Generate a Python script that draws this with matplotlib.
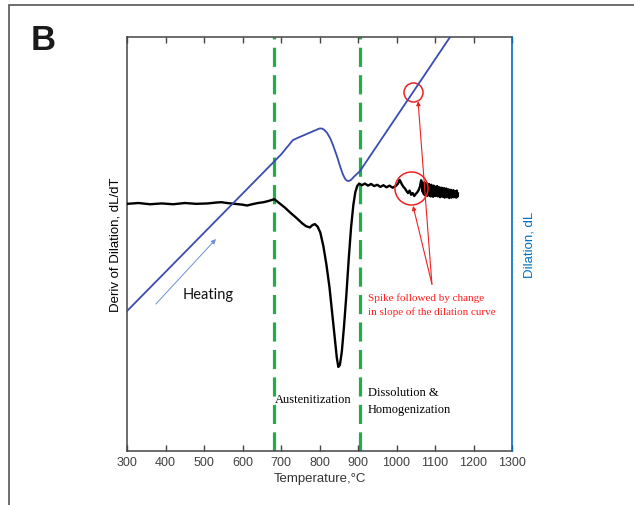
import matplotlib
matplotlib.use("Agg")
import matplotlib.pyplot as plt
from matplotlib.patches import Rectangle

# ---- data ----
deriv_T = [300, 330, 360, 390, 420, 450, 480, 510, 530, 545, 560, 580, 600, 612, 625, 640, 655, 668, 678, 683,
           695, 710, 725, 740, 755, 765, 775, 782, 788, 795, 802, 810, 818, 826, 834, 840,
           845, 849, 853, 858, 864, 870, 876, 882, 888, 893, 898, 903, 910, 918, 926, 934, 942,
           950, 958, 966, 974, 982, 990, 998, 1004, 1008, 1011, 1014, 1018, 1022, 1026, 1030, 1034, 1038,
           1042, 1046, 1050, 1054, 1058, 1061, 1064, 1066,
           1068.0, 1069.5, 1071.0, 1072.5, 1074.0, 1075.5, 1077.0, 1078.5, 1080.0, 1081.5, 1083.0,
           1084.5, 1086.0, 1087.5, 1089.0, 1090.5, 1092.0, 1093.5, 1095.0, 1096.5, 1098.0, 1099.5,
           1101.0, 1102.5, 1104.0, 1105.5, 1107.0, 1108.5, 1110.0, 1111.5, 1113.0, 1114.5, 1116.0,
           1117.5, 1119.0, 1120.5, 1122.0, 1123.5, 1125.0, 1126.5, 1128.0, 1129.5, 1131.0, 1132.5,
           1134.0, 1135.5, 1137.0, 1138.5, 1140.0, 1141.5, 1143.0, 1144.5, 1146.0, 1147.5, 1149.0,
           1150.5, 1152.0, 1153.5, 1155.0, 1156.5, 1158.0, 1159.5]
deriv_val = [59.7, 59.9, 59.6, 59.8, 59.6, 59.9, 59.7, 59.8, 60.0, 60.1, 59.9, 59.7, 59.5, 59.3, 59.6, 59.9, 60.1, 60.4, 60.7, 60.8,
             59.9, 58.8, 57.5, 56.3, 55.0, 54.3, 54.0, 54.6, 54.8, 54.2, 52.8, 49.5, 45.0, 39.5, 32.5, 27.0,
             22.5, 20.3, 20.8, 24.0, 30.5, 38.0, 46.5, 54.0, 59.5, 62.5, 64.0, 64.6, 64.2, 64.6, 64.1, 64.5, 64.0,
             64.3, 63.8, 64.2, 63.7, 64.1, 63.6, 64.0, 64.6, 65.5, 65.0, 64.4, 63.8, 63.4, 62.8, 62.3, 62.9, 61.9,
             62.3, 61.6, 62.1, 62.5, 63.1, 63.9, 65.4, 64.8,
             62.6, 64.6, 62.0, 64.9, 61.8, 64.2, 62.4, 64.7, 61.6, 64.0, 62.2,
             64.5, 61.7, 63.8, 61.5, 64.3, 62.0, 63.6, 61.4, 64.1, 61.9, 63.9,
             61.6, 63.4, 62.1, 64.0, 61.5, 63.5, 61.8, 63.7, 61.3, 63.2, 62.0,
             63.6, 61.4, 63.3, 61.7, 63.5, 61.2, 63.0, 61.8, 63.4, 61.3, 62.9,
             61.6, 63.2, 61.1, 62.8, 61.7, 63.1, 61.2, 62.7, 61.5, 63.0, 61.3,
             62.8, 61.6, 62.6, 61.2, 62.9, 61.4, 62.2]

dil_T = [300, 683, 700, 715, 731, 745, 760, 775, 790, 800, 806, 812, 820, 828, 835, 845, 853, 860, 866,
         871, 876, 882, 890, 905, 1150]
dil_val = [33.8, 70.0, 71.6, 73.3, 75.1, 75.7, 76.3, 76.9, 77.5, 77.9, 77.9, 77.6, 76.8, 75.5, 73.9,
           71.3, 68.9, 67.0, 65.8, 65.3, 65.2, 65.5, 66.3, 67.6, 101.5]

phase_lines = [683, 905]
xticks = list(range(300, 1301, 100))

# ---- figure ----
fig = plt.figure(figsize=(6.34, 5.06), dpi=100)
fig.patches.append(Rectangle((9 / 634, -0.1), 1.2, 1 - 6 / 506 + 0.1, transform=fig.transFigure,
                             fill=False, edgecolor="#555555", linewidth=1.2))
fig.text(31 / 634, 1 - 40 / 506, "B", fontsize=25, fontweight="bold", family="Liberation Sans",
         va="center", ha="left", color="#1a1a1a")

ax = fig.add_axes([127 / 634, 1 - 452 / 506, 385 / 634, 414 / 506])
ax2 = ax.twinx()

ax.set_xlim(300, 1300)
ax.set_ylim(0, 100)
ax2.set_ylim(0, 100)

for t in phase_lines:
    ax.axvline(t, color="#1fae4a", lw=2.3, dashes=(6, 2.6), zorder=1)

ax.plot(deriv_T, deriv_val, color="black", lw=1.7, zorder=3)
ax2.plot(dil_T, dil_val, color="#3a4cae", lw=1.3, zorder=3)

# axes styling
ax.set_xticks(xticks)
ax.tick_params(axis="x", direction="in", top=True, length=4, width=1, color="#444444",
               labelsize=9, labelcolor="#404040")
ax.tick_params(axis="y", left=False, labelleft=False)
ax2.tick_params(axis="y", right=False, labelright=False)
for s in ["left", "bottom", "top"]:
    ax.spines[s].set_color("#444444")
    ax.spines[s].set_linewidth(1.1)
    ax2.spines[s].set_visible(False)
ax.spines["right"].set_visible(False)
ax2.spines["right"].set_color("#0070c0")
ax2.spines["right"].set_linewidth(1.2)

for lab in ax.get_xticklabels():
    lab.set_family("Liberation Sans")
ax.set_xlabel("Temperature,°C", family="Liberation Sans", fontsize=9.5, color="#333333", labelpad=3)
ax.set_ylabel("Deriv of Dilation, dL/dT", family="Liberation Sans", fontsize=9.5, color="black", labelpad=4)
ax2.set_ylabel("Dilation, dL", family="Liberation Sans", fontsize=9.5, color="#0070c0", labelpad=8)

# annotations
ax.annotate("", xy=(536, 51.7), xytext=(370, 35.0),
            arrowprops=dict(arrowstyle="-|>", color="#6f8fd6", lw=0.7, mutation_scale=7))
ax.text(445, 37.9, "Heating", family="Lato", fontsize=10.5, va="center", ha="left", color="#111111")
ax.text(684, 12.6, "Austenitization", family="Liberation Serif", fontsize=9, va="center", ha="left")
ax.text(926, 14.2, "Dissolution &", family="Liberation Serif", fontsize=9, va="center", ha="left")
ax.text(926, 10.1, "Homogenization", family="Liberation Serif", fontsize=9, va="center", ha="left")
ax.text(926, 37.2, "Spike followed by change", family="Liberation Serif", fontsize=8,
        va="center", ha="left", color="#ff2020")
ax.text(926, 33.8, "in slope of the dilation curve", family="Liberation Serif", fontsize=8,
        va="center", ha="left", color="#ff2020")

ax.plot([1043], [86.8], marker="o", ms=13.7, mfc="none", mec="#ee2222", mew=1.1, zorder=5)
ax.plot([1038], [63.5], marker="o", ms=23.8, mfc="none", mec="#ee2222", mew=1.1, zorder=5)
for tip in [(1056, 84.5), (1043, 59.2)]:
    ax.annotate("", xy=tip, xytext=(1092, 40.3),
                arrowprops=dict(arrowstyle="-|>", color="#ee2222", lw=0.8, mutation_scale=6,
                                shrinkA=0, shrinkB=0))

fig.savefig("out.png", dpi=100)
